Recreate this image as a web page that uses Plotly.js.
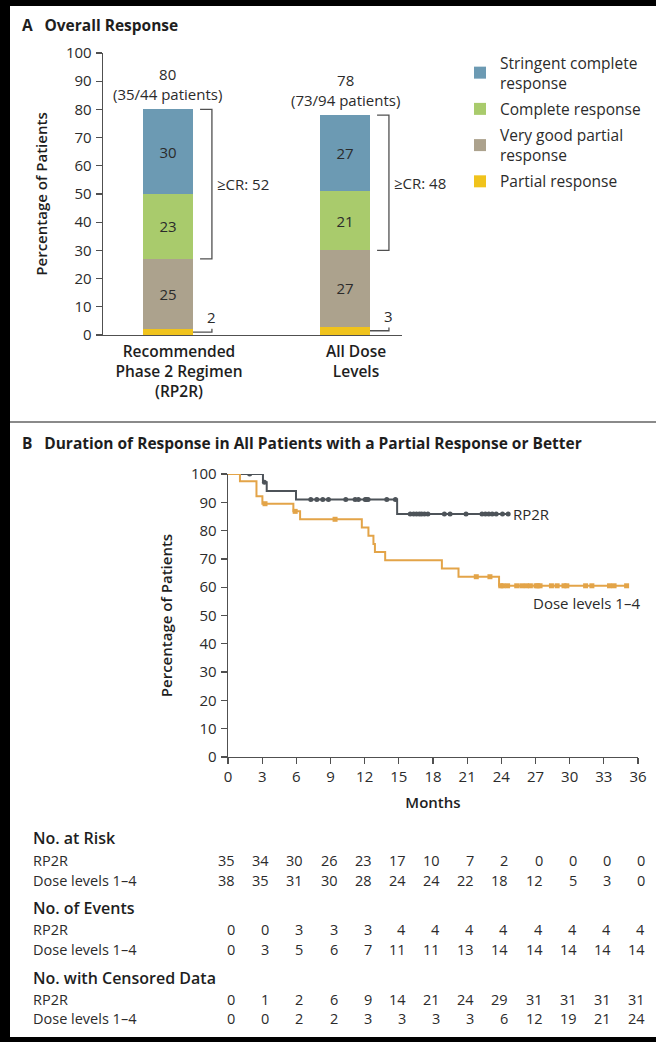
<!DOCTYPE html>
<html><head><meta charset="utf-8">
<script src="https://cdn.plot.ly/plotly-3.0.1.min.js"></script>
<style>html,body{margin:0;padding:0;background:#fff;} #chart{width:656px;height:1042px;}</style>
</head><body><div id="chart"></div>
<script>
// ---------- Panel A data ----------
const groupLabels = ['Recommended<br>Phase 2 Regimen<br>(RP2R)', 'All Dose<br>Levels'];
const groupPos = [0, 1];
const partialResp = [2, 3];
const vgpr = [25, 27];
const cr = [23, 21];
const scr = [30, 27];
const overallPct = [80, 78];
const overallCounts = ['35/44', '73/94'];
const crOrBetter = [52, 48];
const respNames = ['Partial response', 'Very good partial<br>response', 'Complete response', 'Stringent complete<br>response'];
const respColors = ['#f0c31c', '#aca28d', '#a9cb6c', '#6c9ab3'];
const yTicksA = [0,10,20,30,40,50,60,70,80,90,100];

// ---------- Panel B data ----------
const rp2rStepTimes = [0, 3.07, 3.4, 5.97, 14.85, 24.6];
const rp2rStepSurv  = [100, 97.1, 94.0, 91.0, 85.9, 85.9];
const rp2rCensor = [1.9, 3.2, 7.27, 7.8, 8.32, 8.82, 10.34, 11.16, 11.45, 12.05, 12.15, 12.3, 13.94, 14.7,
  16.0, 16.3, 16.55, 16.8, 17.0, 17.25, 17.55, 19.0, 19.5, 20.9, 22.3, 22.6, 22.9, 23.2, 23.55, 24.1, 24.6];
const doseStepTimes = [0, 1.05, 2.5, 3.02, 5.74, 6.33, 11.75, 12.33, 12.77, 12.9, 13.8, 18.78, 20.24, 23.8, 35.0];
const doseStepSurv  = [100, 97.4, 92.1, 89.5, 86.8, 84.0, 81.1, 78.2, 75.3, 72.4, 69.5, 66.6, 63.7, 60.5, 60.5];
const doseCensor = [3.25, 5.9, 9.4, 21.8, 23.0, 23.95, 24.15, 24.55, 25.35, 25.8, 26.2, 26.55, 27.05, 27.2, 27.4,
  28.4, 28.9, 29.5, 29.75, 31.4, 31.95, 33.5, 33.9, 35.0];
const monthTicks = [0,3,6,9,12,15,18,21,24,27,30,33,36];
const riskRP2R   = [35,34,30,26,23,17,10,7,2,0,0,0,0];
const riskDose   = [38,35,31,30,28,24,24,22,18,12,5,3,0];
const eventsRP2R = [0,0,3,3,3,4,4,4,4,4,4,4,4];
const eventsDose = [0,3,5,6,7,11,11,13,14,14,14,14,14];
const censRP2R   = [0,1,2,6,9,14,21,24,29,31,31,31,31];
const censDose   = [0,0,2,2,3,3,3,3,6,12,19,21,24];

// ---------- helpers ----------
const W = 656, H = 1042;
const PX = p => p / W;
const PY = p => 1 - p / H;
const FONT = 'Open Sans, sans-serif';
const TXT = '#2b2b2b';
const AX = '#505050';
function stepLookup(times, surv, t) { let v = surv[0]; for (let i = 0; i < times.length; i++) if (times[i] <= t) v = surv[i]; return v; }

const barWidth = 0.2825;
const traces = [];
const segs = [partialResp, vgpr, cr, scr];
segs.forEach((vals, k) => {
  traces.push({
    type: 'bar', x: groupPos, y: vals, name: respNames[k], width: barWidth,
    marker: {color: respColors[k], line: {width: 0}},
    text: k === 0 ? vals.map(() => '') : vals.map(String),
    textposition: 'inside', insidetextanchor: 'middle', textangle: 0,
    textfont: {family: FONT, size: 15, color: TXT},
    hoverinfo: 'skip', xaxis: 'x', yaxis: 'y', legendrank: 10 - k, legendgroup: 'g' + k
  });
});

traces.push({type: 'scatter', mode: 'lines', x: rp2rStepTimes, y: rp2rStepSurv, line: {shape: 'hv', color: '#4d5359', width: 2}, xaxis: 'x2', yaxis: 'y2', showlegend: false, hoverinfo: 'skip'});
traces.push({type: 'scatter', mode: 'markers', x: rp2rCensor, y: rp2rCensor.map(t => stepLookup(rp2rStepTimes, rp2rStepSurv, t)), marker: {symbol: 'circle', size: 5, color: '#4d5359'}, xaxis: 'x2', yaxis: 'y2', showlegend: false, hoverinfo: 'skip'});
traces.push({type: 'scatter', mode: 'lines', x: doseStepTimes, y: doseStepSurv, line: {shape: 'hv', color: '#e3a448', width: 2}, xaxis: 'x2', yaxis: 'y2', showlegend: false, hoverinfo: 'skip'});
traces.push({type: 'scatter', mode: 'markers', x: doseCensor, y: doseCensor.map(t => stepLookup(doseStepTimes, doseStepSurv, t)), marker: {symbol: 'square', size: 5, color: '#e3a448'}, xaxis: 'x2', yaxis: 'y2', showlegend: false, hoverinfo: 'skip'});

const annotations = [];
const shapes = [];
const ann = (o) => annotations.push(Object.assign({showarrow: false, borderpad: 0, font: {family: FONT, size: 15, color: TXT}}, o));

// Panel titles
ann({xref: 'paper', yref: 'paper', x: PX(21), y: PY(25), xanchor: 'left', yanchor: 'middle', text: 'A\u2002 Overall Response', font: {family: FONT, size: 15.5, color: '#1e1e1e', weight: 700}});
ann({xref: 'paper', yref: 'paper', x: PX(21), y: PY(443), xanchor: 'left', yanchor: 'middle', text: 'B\u2002 Duration of Response in All Patients with a Partial Response or Better', font: {family: FONT, size: 15.5, color: '#1e1e1e', weight: 700}});

// Panel A annotations and brackets
groupPos.forEach((g, i) => {
  const total = partialResp[i] + vgpr[i] + cr[i] + scr[i];
  ann({xref: 'x', yref: 'y', x: g, y: total, yanchor: 'bottom', yshift: 4, text: overallPct[i] + '<br>(' + overallCounts[i] + ' patients)'});
  const edge = g + barWidth / 2;
  const bx0 = edge + 0.04, bx1 = edge + 0.107;
  const lo = partialResp[i] + vgpr[i];
  shapes.push({type: 'path', xref: 'x', yref: 'y', path: `M${bx0},${total} L${bx1},${total} L${bx1},${lo} L${bx0},${lo}`, line: {color: AX, width: 1.3}});
  ann({xref: 'x', yref: 'y', x: bx1, y: (total + lo) / 2, xanchor: 'left', xshift: 4, text: '\u2265CR: ' + crOrBetter[i]});
  const pm = partialResp[i] / 2;
  shapes.push({type: 'path', xref: 'x', yref: 'y', path: `M${edge},${pm} L${bx1},${pm} L${bx1},${pm + 1.2}`, line: {color: AX, width: 1.3}});
  ann({xref: 'x', yref: 'y', x: bx1, y: pm, yanchor: 'bottom', yshift: 4, text: String(partialResp[i])});
});

// Panel B curve labels
ann({xref: 'x2', yref: 'y2', x: rp2rStepTimes[rp2rStepTimes.length - 1], y: rp2rStepSurv[rp2rStepSurv.length - 1], xanchor: 'left', xshift: 4, text: 'RP2R'});
ann({xref: 'x2', yref: 'y2', x: 36, y: 54.5, xanchor: 'right', xshift: 3, text: 'Dose levels 1\u20134'});

// Tables
const rowY = [838, 860, 880, 908, 929, 949, 978, 999, 1018];
const headers = ['No. at Risk', 'No. of Events', 'No. with Censored Data'];
const tableData = [[riskRP2R, riskDose], [eventsRP2R, eventsDose], [censRP2R, censDose]];
headers.forEach((h, b) => {
  ann({xref: 'paper', yref: 'paper', x: PX(32), y: PY(rowY[b * 3]), xanchor: 'left', yanchor: 'middle', text: h, font: {family: FONT, size: 16, color: '#1e1e1e', weight: 600}});
  ['RP2R', 'Dose levels 1\u20134'].forEach((lab, r) => {
    const yy = PY(rowY[b * 3 + 1 + r]);
    ann({xref: 'paper', yref: 'paper', x: PX(32), y: yy, xanchor: 'left', yanchor: 'middle', text: lab, font: {family: FONT, size: 14.5, color: TXT}});
    tableData[b][r].forEach((v, j) => {
      ann({xref: 'x2', yref: 'paper', x: monthTicks[j], y: yy, xanchor: 'right', yanchor: 'middle', xshift: 8, text: String(v), font: {family: FONT, size: 14.5, color: TXT}});
    });
  });
});

// border & separator
shapes.push({type: 'rect', xref: 'paper', yref: 'paper', x0: 0, x1: PX(10), y0: 0, y1: 1, fillcolor: '#000', line: {width: 0}, layer: 'above'});
shapes.push({type: 'rect', xref: 'paper', yref: 'paper', x0: 0, x1: 1, y0: PY(6), y1: 1, fillcolor: '#000', line: {width: 0}, layer: 'above'});
shapes.push({type: 'rect', xref: 'paper', yref: 'paper', x0: 0, x1: 1, y0: 0, y1: PY(1037), fillcolor: '#000', line: {width: 0}, layer: 'above'});
shapes.push({type: 'line', xref: 'paper', yref: 'paper', x0: PX(10), x1: 1, y0: PY(422), y1: PY(422), line: {color: '#8a8a8a', width: 2}});

const tickFont = {family: FONT, size: 15, color: TXT};
const layout = {
  width: W, height: H, margin: {l: 0, r: 0, t: 0, b: 0},
  paper_bgcolor: '#fff', plot_bgcolor: 'rgba(0,0,0,0)',
  barmode: 'stack', bargap: 0,
  font: {family: FONT, color: TXT},
  showlegend: true,
  legend: {x: PX(460), y: PY(46), xanchor: 'left', yanchor: 'top', traceorder: 'grouped', font: {family: FONT, size: 15.5, color: TXT}, itemwidth: 30, tracegroupgap: 3, bgcolor: 'rgba(0,0,0,0)'},
  xaxis: {domain: [PX(103), PX(402)], range: [-0.367, 1.322], tickvals: groupPos, ticktext: groupLabels, ticks: '', showline: true, linecolor: AX, linewidth: 1.3, showgrid: false, zeroline: false, fixedrange: true,
    tickfont: {family: FONT, size: 15.5, color: '#1e1e1e', weight: 600}, ticklabelshift: 11, ticklabelstandoff: 2, anchor: 'y'},
  yaxis: {domain: [PY(335), PY(53)], range: [0, 100], tickvals: yTicksA, ticks: 'outside', ticklen: 6, tickwidth: 1.3, tickcolor: AX, showline: true, linecolor: AX, linewidth: 1.3, showgrid: false, zeroline: false,
    tickfont: tickFont, ticklabelstandoff: 1, title: {text: 'Percentage of Patients', font: {family: FONT, size: 15, color: '#1e1e1e', weight: 600}, standoff: 14}, anchor: 'x'},
  xaxis2: {domain: [PX(228), PX(638)], range: [0, 36], tickvals: monthTicks, ticks: 'outside', ticklen: 6, tickwidth: 1.3, tickcolor: AX, showline: true, linecolor: AX, linewidth: 1.3, showgrid: false, zeroline: false,
    tickfont: tickFont, title: {text: 'Months', font: {family: FONT, size: 15, color: '#1e1e1e', weight: 600}, standoff: 12}, anchor: 'y2'},
  yaxis2: {domain: [PY(757), PY(474)], range: [0, 100], tickvals: yTicksA, ticks: 'outside', ticklen: 6, tickwidth: 1.3, tickcolor: AX, showline: true, linecolor: AX, linewidth: 1.3, showgrid: false, zeroline: false,
    tickfont: tickFont, ticklabelstandoff: 1, title: {text: 'Percentage of Patients', font: {family: FONT, size: 15, color: '#1e1e1e', weight: 600}, standoff: 14}, anchor: 'x2'},
  annotations: annotations, shapes: shapes
};
Plotly.newPlot('chart', traces, layout, {displayModeBar: false, staticPlot: true});
</script></body></html>
